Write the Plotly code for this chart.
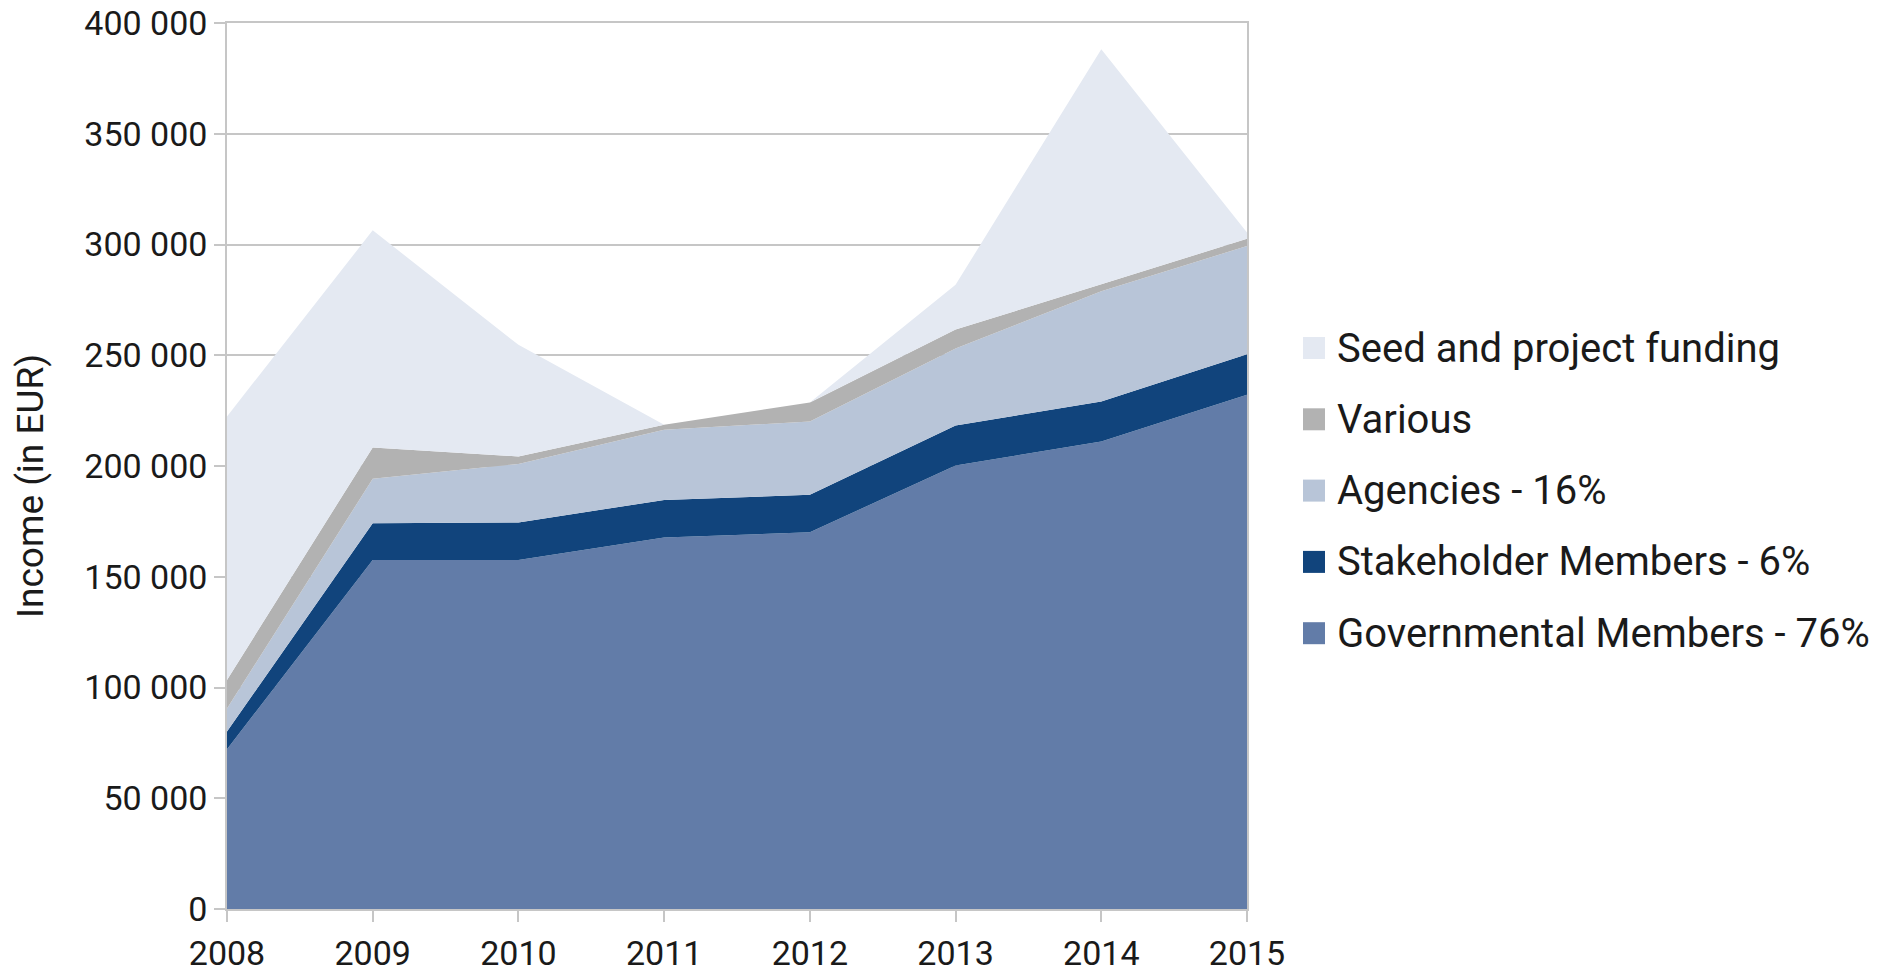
import plotly.graph_objects as go

years = [2008, 2009, 2010, 2011, 2012, 2013, 2014, 2015]

governmental = [72100, 157600, 157600, 167700, 170100, 200200, 211100, 232200]
stakeholder = [8000, 16600, 16900, 17000, 16900, 18100, 18000, 18200]
agencies = [10400, 20000, 26400, 31700, 33100, 34700, 49800, 48900]
various = [12900, 14200, 3400, 2200, 8600, 8600, 3100, 3300]
seed = [119000, 98000, 50400, 0, 0, 20200, 106200, 2800]

series_names = ["Governmental Members - 76%", "Stakeholder Members - 6%",
                "Agencies - 16%", "Various", "Seed and project funding"]
series_values = [governmental, stakeholder, agencies, various, seed]
series_colors = ["#627ca8", "#11447c", "#b8c5d8", "#b2b2b2", "#e4e9f2"]

y_ticks = [0, 50000, 100000, 150000, 200000, 250000, 300000, 350000, 400000]

FONT = "Roboto"
W, H = 1880, 970
OFF = 8  # page body margin
L, R, T, B = 227 - OFF, 1880 - 1247 + OFF, 23 - OFF, 970 - 909 + OFF
pw = W - L - R
ph = H - T - B

fig = go.Figure()
for name, vals, col in zip(series_names, series_values, series_colors):
    fig.add_trace(go.Scatter(
        x=years, y=vals, name=name, mode="lines",
        line=dict(width=0, color=col), fillcolor=col,
        stackgroup="one", showlegend=False, hoverinfo="x+y+name",
    ))

grid = "#c6c6c6"
fig.update_layout(
    width=W, height=H,
    margin=dict(l=L, r=R, t=T, b=B, autoexpand=False),
    paper_bgcolor="white", plot_bgcolor="white",
    separators=". ",
    font=dict(family=FONT, color="#1a1a1a", size=34),
    xaxis=dict(
        range=[2008, 2015], tickvals=years, ticktext=[str(y) for y in years],
        showgrid=False, zeroline=False,
        showline=True, mirror=True, linecolor=grid, linewidth=1.5,
        ticks="outside", ticklen=11, tickcolor=grid, tickwidth=1.5,
        ticklabelstandoff=2, ticklabeloverflow="allow",
        tickfont=dict(size=34, family=FONT, color="#1a1a1a"),
        automargin=False,
    ),
    yaxis=dict(
        range=[0, 400000], tickvals=y_ticks, tickformat=",d",
        showgrid=True, gridcolor=grid, gridwidth=1.5, zeroline=False,
        showline=True, mirror=True, linecolor=grid, linewidth=1.5,
        ticks="outside", ticklen=11, tickcolor=grid, tickwidth=1.5,
        ticklabelstandoff=0, ticklabeloverflow="allow",
        tickfont=dict(size=34, family=FONT, color="#1a1a1a"),
        automargin=False,
    ),
)

# y-axis title
fig.add_annotation(
    text="Income (in EUR)", textangle=-90, showarrow=False,
    xref="paper", yref="paper", x=(30 - OFF - L) / pw, y=(H - B - (486 - OFF)) / ph,
    xanchor="center", yanchor="middle",
    font=dict(size=37, family=FONT, color="#1a1a1a"),
)

# legend (top: Seed ... bottom: Governmental)
row0 = 348 - OFF
step = 71.3
for i, (name, col) in enumerate(zip(reversed(series_names), reversed(series_colors))):
    yc = row0 + i * step
    yp = (H - B - yc) / ph
    fig.add_shape(
        type="rect", xref="paper", yref="paper",
        x0=(1303 - OFF - L) / pw, x1=(1325 - OFF - L) / pw,
        y0=yp - 11 / ph, y1=yp + 11 / ph,
        fillcolor=col, line=dict(width=0),
    )
    fig.add_annotation(
        text=name, showarrow=False, xref="paper", yref="paper",
        x=(1335 - OFF - L) / pw, y=yp, xanchor="left", yanchor="middle",
        font=dict(size=40, family=FONT, color="#1a1a1a"),
    )

fig.write_html("out.html")
